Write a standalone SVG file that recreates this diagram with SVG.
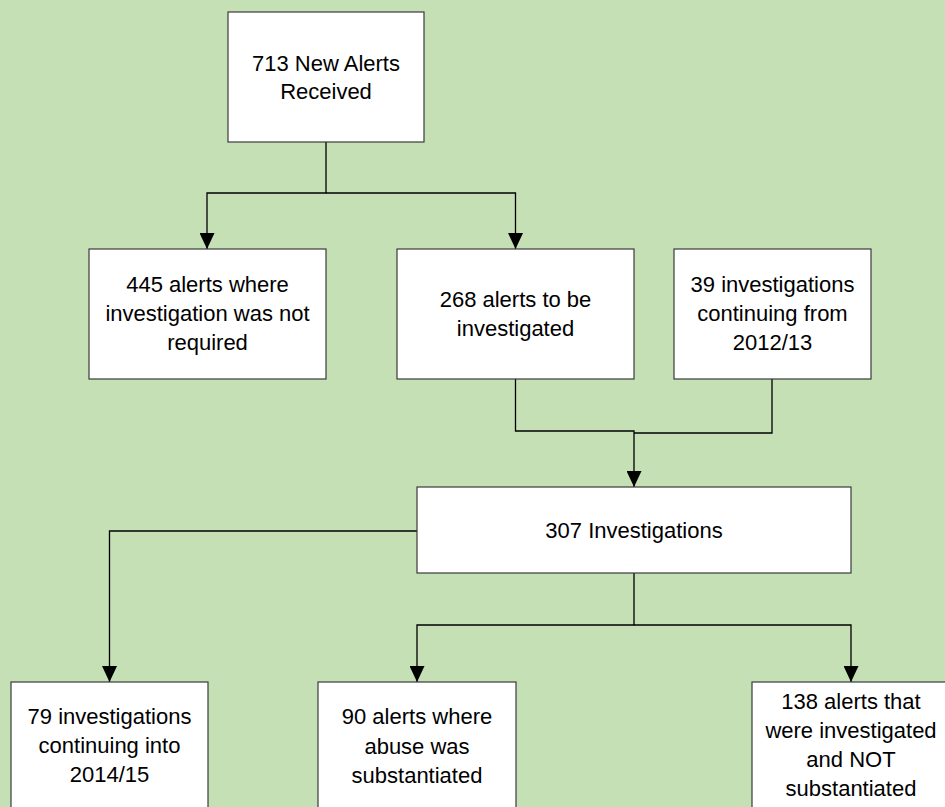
<svg xmlns="http://www.w3.org/2000/svg" width="945" height="807" viewBox="0 0 945 807">
<style>
.box{fill:#ffffff;stroke:#3a3a3a;stroke-width:1.2}
.t{font-family:"Liberation Sans",Arial,sans-serif;font-size:22px;fill:#000;text-anchor:middle}
.c{fill:none;stroke:#000;stroke-width:1.3}
</style>
<defs>
<marker id="ah" markerUnits="userSpaceOnUse" markerWidth="16" markerHeight="15" refX="16" refY="7.5" orient="auto">
<path d="M0,0 L16,7.5 L0,15 z" fill="#000"/>
</marker>
</defs>
<rect width="945" height="807" fill="#c5e0b4"/>
<g id="connectors">
<path class="c" d="M326,142 V193 H207 V249" marker-end="url(#ah)"/>
<path class="c" d="M326,193 H515.5 V249" marker-end="url(#ah)"/>
<path class="c" d="M515.5,379 V431 H634 V487" marker-end="url(#ah)"/>
<path class="c" d="M772,379 V433 H634"/>
<path class="c" d="M417,531 H109.5 V682" marker-end="url(#ah)"/>
<path class="c" d="M634,573 V625 H417 V682" marker-end="url(#ah)"/>
<path class="c" d="M634,625 H851 V682" marker-end="url(#ah)"/>
</g>
<g id="n713">
<rect class="box" x="228" y="12" width="196" height="130"/>
<text class="t" x="326" y="71">713 New Alerts</text>
<text class="t" x="326" y="99">Received</text>
</g>
<g id="n445">
<rect class="box" x="89" y="249" width="237" height="130"/>
<text class="t" x="207.5" y="292">445 alerts where</text>
<text class="t" x="207.5" y="321">investigation was not</text>
<text class="t" x="207.5" y="350">required</text>
</g>
<g id="n268">
<rect class="box" x="397" y="249" width="237" height="130"/>
<text class="t" x="515.5" y="307">268 alerts to be</text>
<text class="t" x="515.5" y="336">investigated</text>
</g>
<g id="n39">
<rect class="box" x="674" y="249" width="197" height="130"/>
<text class="t" x="772.5" y="292">39 investigations</text>
<text class="t" x="772.5" y="321">continuing from</text>
<text class="t" x="772.5" y="350">2012/13</text>
</g>
<g id="n307">
<rect class="box" x="417" y="487" width="434" height="86"/>
<text class="t" x="634" y="538">307 Investigations</text>
</g>
<g id="n79">
<rect class="box" x="11" y="682" width="197" height="140"/>
<text class="t" x="109.5" y="724">79 investigations</text>
<text class="t" x="109.5" y="753">continuing into</text>
<text class="t" x="109.5" y="782">2014/15</text>
</g>
<g id="n90">
<rect class="box" x="318" y="682" width="198" height="140"/>
<text class="t" x="417" y="724">90 alerts where</text>
<text class="t" x="417" y="754">abuse was</text>
<text class="t" x="417" y="783">substantiated</text>
</g>
<g id="n138">
<rect class="box" x="752" y="682" width="198" height="140"/>
<text class="t" x="851" y="709">138 alerts that</text>
<text class="t" x="851" y="738">were investigated</text>
<text class="t" x="851" y="767">and NOT</text>
<text class="t" x="851" y="796">substantiated</text>
</g>
</svg>
